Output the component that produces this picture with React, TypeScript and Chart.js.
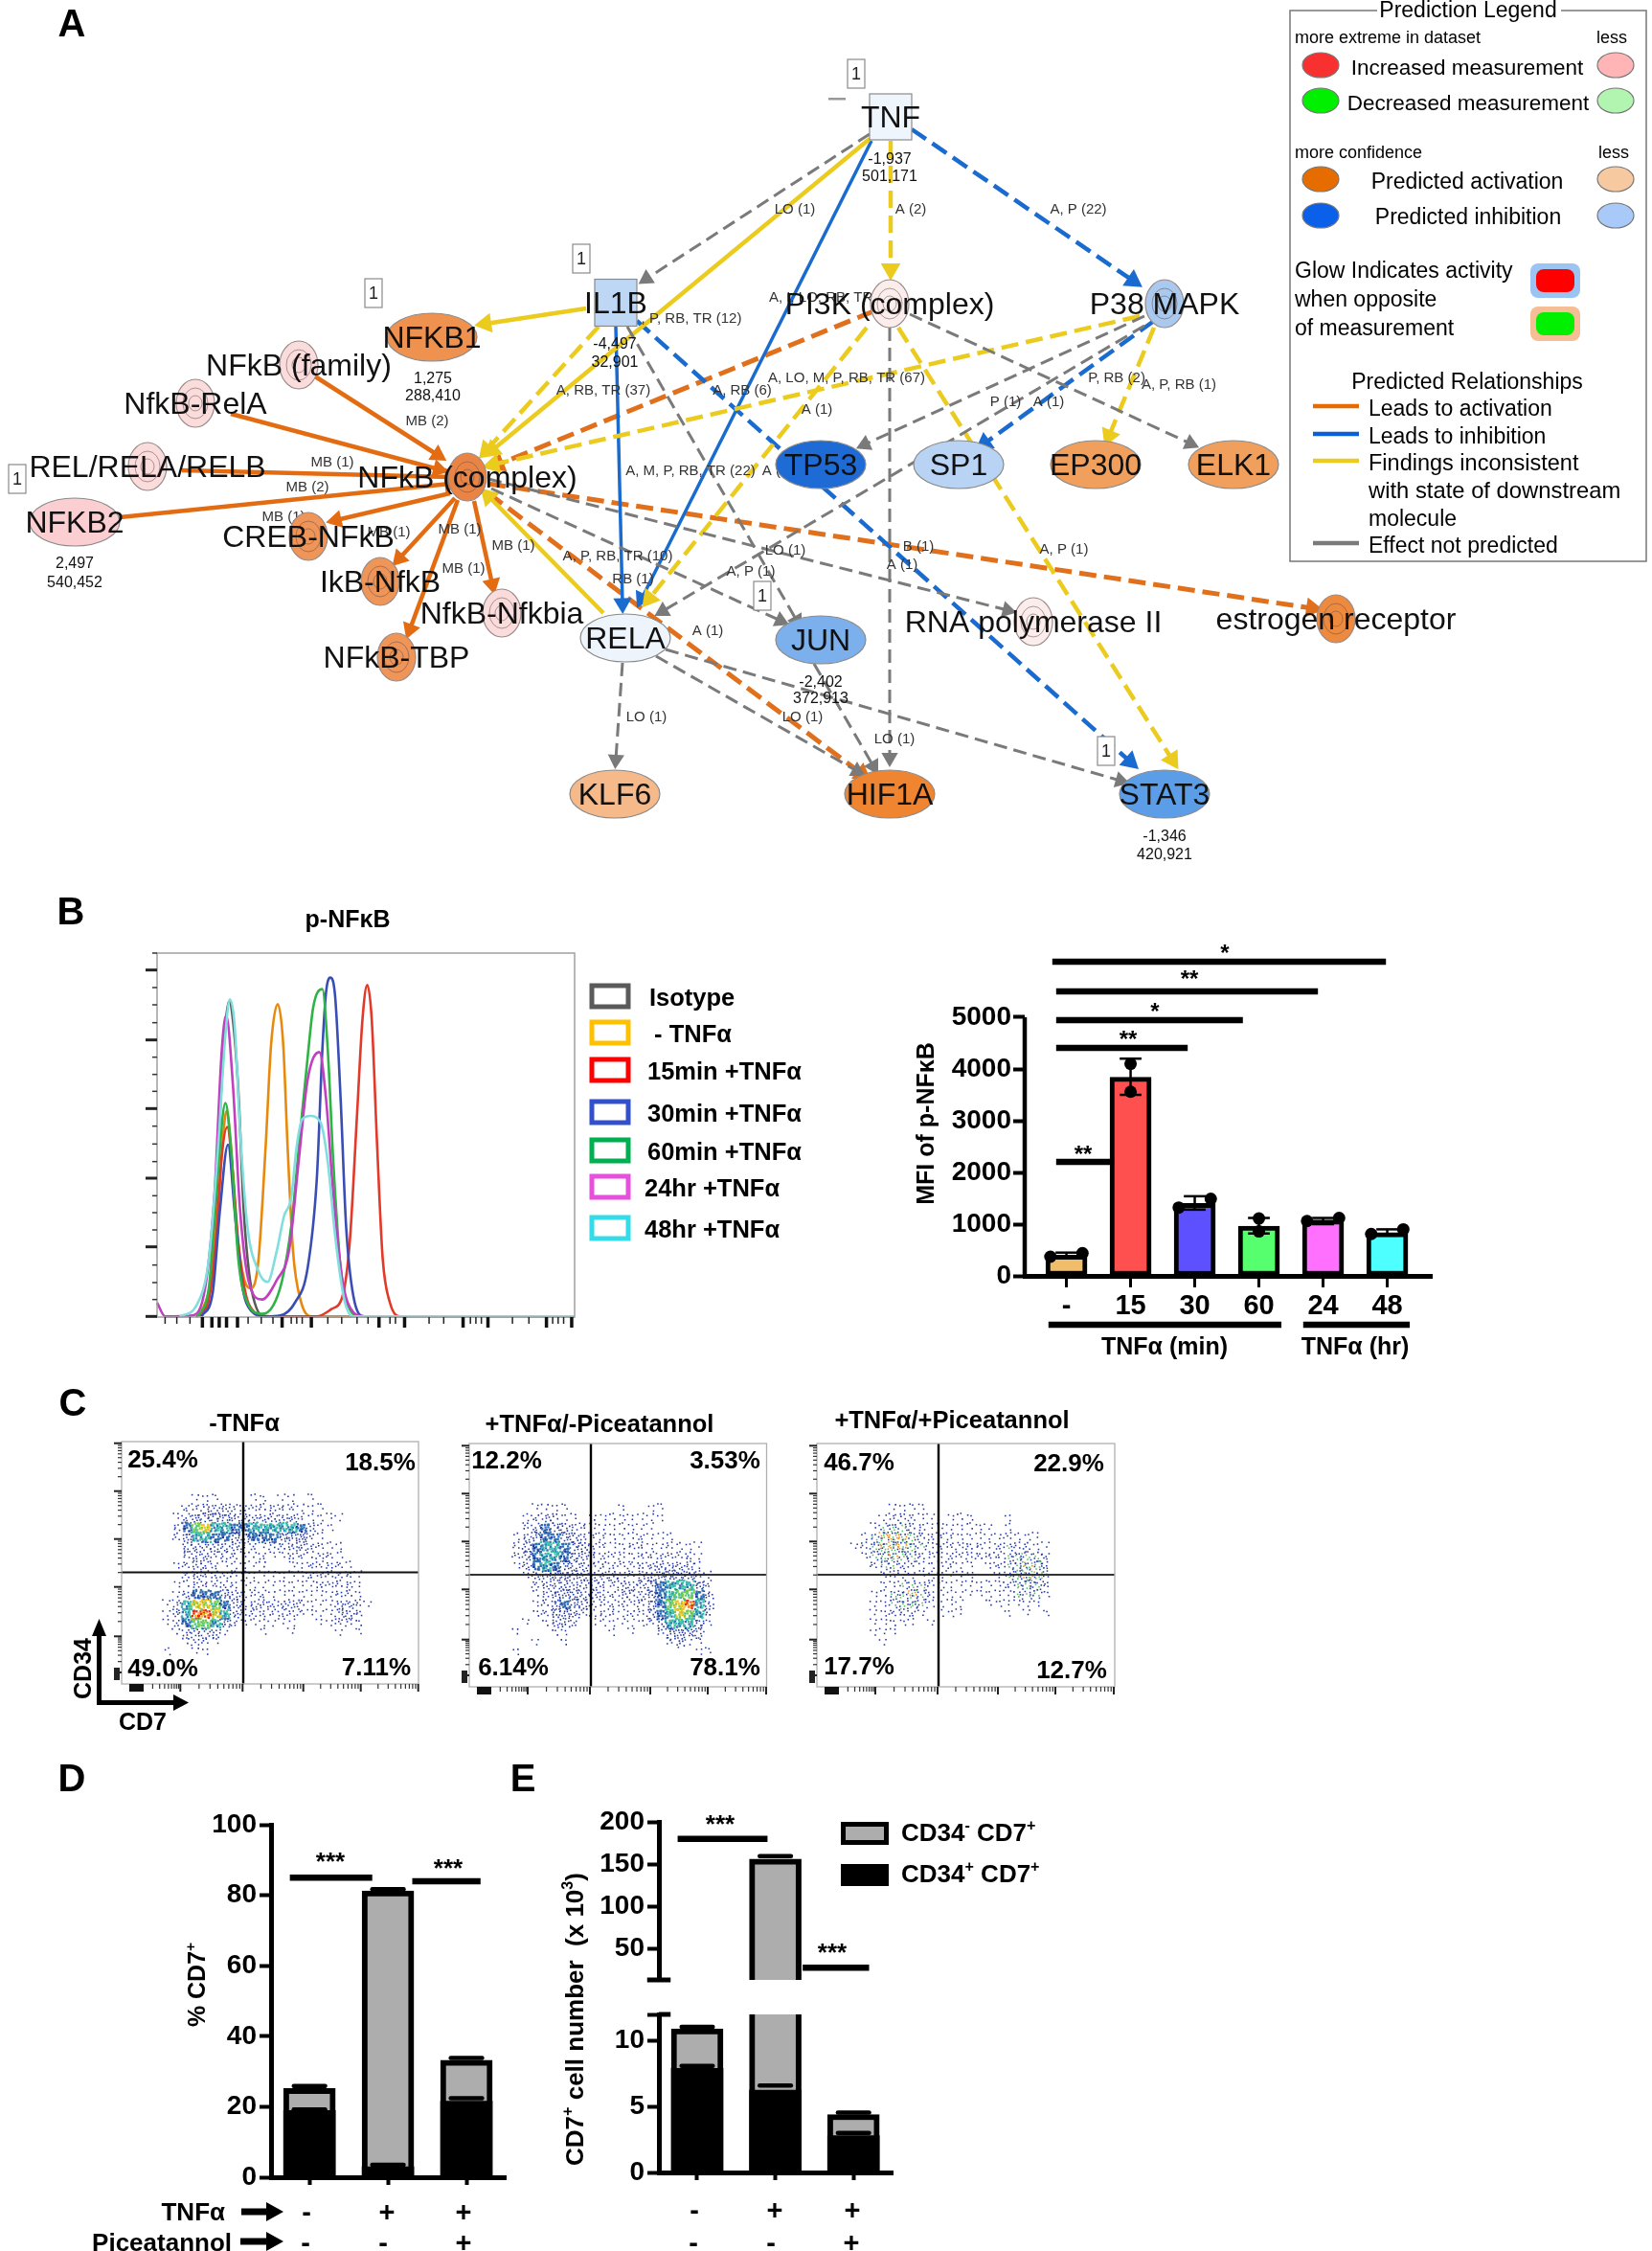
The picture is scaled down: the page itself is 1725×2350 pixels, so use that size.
import React, { useEffect, useRef } from "react";
import { Chart, registerables } from "chart.js";
Chart.register(...registerables);

const F = '"Liberation Sans", Arial, sans-serif';
Chart.defaults.font.family = F;

/* ---------- Panel A data ---------- */
const nodeNames = ["TNF","IL1B","NFKB1","NFkB (family)","NfkB-RelA","REL/RELA/RELB","NFKB2","NFkB (complex)","CREB-NFkB","IkB-NfkB","NfkB-Nfkbia","NFkB-TBP","RELA","KLF6","JUN","HIF1A","STAT3","RNA polymerase II","estrogen receptor","PI3K (complex)","P38 MAPK","TP53","SP1","EP300","ELK1"];
const nodeX = [930,643,451,312,204,154,78,488,322,397,524,414,653,642,857,929,1216,1079,1395,929,1216,857,1001,1144,1288];
const nodeY = [122,316,352,381,421,487,545,498,560,607,640,686,666,829,668,829,829,649,646,317,317,485,485,485,485];
const nodeKind = ["s","s","g","c","c","c","g","c","c","c","c","c","g","g","g","g","g","c","c","c","c","g","g","g","g"];
const nodeFill = ["#EFF5FC","#BDD7F5","#EF9250","#FADCDD","#FADCDD","#FADCDD","#FBCFD2","#EA8444","#EE9557","#EE9557","#FADCDD","#EE9557","#EEF4FB","#F5B98A","#7CB0EC","#EF8530","#5B9DE6","#FBEDEC","#EE8A3E","#FBEDEC","#A9C9EE","#1F6BD6","#B8D3F3","#F19F5C","#F19F5C"];
const noteText = ["-1,937","501,171","-4,497","32,901","1,275","288,410","2,497","540,452","-2,402","372,913","-1,346","420,921"];
const noteX = [929,929,642,642,452,452,78,78,857,857,1216,1216];
const noteY = [166,184,359,378,395,413,588,608,712,729,873,892];
const oneBoxX = [894,607,390,18,796,1155];
const oneBoxY = [77,270,306,500,622,784];
const edgeLabelText = ["LO (1)","A (2)","A, P (22)","A, I, LO, RB, TR (18)",", P, RB, TR (12)","A, RB, TR (37)","A, RB (6)","A, LO, M, P, RB, TR (67)","A (1)","MB (2)","MB (1)","MB (2)","MB (1)","MB (1)","MB (1)","MB (1)","MB (1)","A, M, P, RB, TR (22)","A (1)","A, P, RB, TR (10)","RB (1)","A (1)","LO (1)","A, P (1)","LO (1)","P, RB (2)","A, P, RB (1)","P (1)","A (1)","A, P (1)","B (1)","A (1)","LO (1)","LO (1)"];
const edgeLabelX = [830,951,1126,803,722,630,775,884,853,446,347,321,296,406,480,536,484,721,812,645,661,739,675,784,820,1166,1231,1050,1095,1111,959,942,838,934];
const edgeLabelY = [218,218,218,310,332,407,407,394,427,439,482,508,539,555,552,569,593,491,491,580,604,658,748,596,574,394,401,419,419,573,570,589,748,771];
type Seg = number[];
const grayDashed: Seg[] = [[908,140,675,291],[950,328,1243,463],[929,342,929,791],[1195,330,903,464],[1195,340,692,638],[655,341,832,648],[510,500,1052,637],[513,510,815,648],[650,692,643,793],[685,685,895,805],[695,678,1170,815],[850,693,912,800]];
const yellowDashed: Seg[] = [[930,147,930,281],[625,341,508,470],[905,342,678,625],[938,342,1224,793],[1190,330,515,485],[1205,342,1158,455]];
const yellowSolid: Seg[] = [[908,145,514,470],[612,322,507,338],[630,640,510,518]];
const blueSolid: Seg[] = [[910,147,670,625],[643,341,650,630]];
const blueDashed: Seg[] = [[952,135,1183,293],[665,335,1180,795],[1205,335,1028,463]];
const orangeSolid: Seg[] = [[329,393,457,475],[241,432,458,490],[190,491,470,498],[125,540,470,505],[470,515,351,543],[475,520,417,583],[478,522,428,657],[495,523,514,610]];
const orangeDashed: Seg[] = [[912,325,520,485],[510,505,1370,635],[510,515,900,808]];

/* ---------- Panel B data ---------- */
const histIsotypeX = [107,137,157,172,187,197,207,222,237,252,267,287,317,1142];
const histIsotypeY = [0,45,205,635,915,990,935,715,335,135,45,5,2,2];
const histCtrlX = [117,147,167,182,190,202,217,237,257,277,297,312,330,345,357,372,392,422,1142];
const histCtrlY = [5,115,355,585,645,535,285,125,90,175,535,855,980,855,535,205,55,2,2];
const hist15X = [117,142,162,177,192,207,222,242,267,297,437,477,507,527,547,562,575,587,602,617,637,667,1142];
const hist15Y = [2,55,255,505,595,455,235,75,15,2,2,25,65,235,635,935,1040,935,535,185,45,2,2];
const hist30X = [122,152,172,194,212,232,257,297,337,377,412,437,452,462,474,487,502,517,537,567,1142];
const hist30Y = [2,75,335,540,335,105,20,2,5,45,155,435,835,1015,1063,1005,685,285,65,2,2];
const hist60X = [112,142,165,187,202,222,247,287,317,342,367,392,412,427,452,467,482,502,527,557,1142];
const hist60Y = [2,95,435,670,535,185,45,10,35,115,285,585,815,970,1027,835,485,155,25,2,2];
const hist24X = [0,22,97,132,157,177,189,207,227,252,287,327,362,387,412,444,462,482,507,537,567,1142];
const hist24Y = [45,2,5,95,385,835,945,735,335,105,55,115,215,485,745,830,685,385,115,15,2,2];
const hist48X = [62,107,142,167,187,199,212,227,247,277,302,327,347,367,382,397,419,447,467,487,512,537,1142];
const hist48Y = [2,35,185,535,885,995,915,585,285,145,110,205,315,375,535,620,630,610,485,255,55,2,2];
const histColors = ["#5A5A5A","#E8890C","#E23A2A","#3A4DB5","#2FB344","#C040C0","#80DEDC"];
const histLegend = ["Isotype"," - TNFα","15min +TNFα","30min +TNFα","60min +TNFα","24hr +TNFα","48hr +TNFα"];
const histLegendColors = ["#5A5A5A","#FFC000","#FF0000","#3350CC","#00B050","#E650DC","#33DCE8"];
const histMajorY = [1087,868,653,435,220,2];
const histMinorY = [1140,1032,978,922,814,760,707,598,542,487,380,327,273,163,108,55];
const histMajorX = [124,150,170,190,220,342,422,607,677,837,905,1065,1134];
const histMinorX = [22,54,90,249,285,317,367,382,397,467,505,547,577,637,652,744,784,857,872,887,972,1017,1082,1097,1112];

const mfiLabels = ["-","15","30","60","24","48"];
const mfiValues = [400,3840,1400,960,1080,835];
const mfiColors = ["#F0BE6A","#FF5050","#5C50FF","#55FF6E","#FF70FF","#4DFFFF"];
const mfiErrLow = [360,3500,1280,820,1000,780];
const mfiErrHigh = [450,4200,1540,1120,1120,900];
const mfiDotX = [-0.25,0.25,1,1,1.75,2.25,3,3,3.75,4.25,4.75,5.25];
const mfiDotY = [370,440,4100,3560,1320,1490,1110,860,1060,1120,810,900];
const mfiSig = [[-0.22,4.98,6074],[-0.16,3.92,5500],[-0.16,2.75,4944],[-0.16,1.89,4407],[-0.16,0.74,2204]];
const mfiGroups = [[-0.28,3.35],[3.69,5.35]];

/* ---------- Panel C data: event density read per 10 px cell (0 empty – 9 hottest) ---------- */
const flowRows1 = [
"000000001110001101101",
"0000000223332222222111",
"000000134444333333321111",
"00000025786655666665311",
"0000002466554455544421",
"000000033333322122332211",
"000000023322211211221221",
"0000001232211111001122221",
"00000002322221111111222221",
"00000011222221111111122221",
"00000013555432221111111221",
"000001368875323323321113321",
"00000136998632222222111332",
"00000125776421111110011221",
"00000013333100010010000101",
"00000001221",
"0000010011"];
const flowRows2 = [
"000000011110000010011",
"000000123211011111111",
"00000023543221111111",
"0000013455432221112111",
"0000023566543221122112111",
"0000024566543222212222221",
"0000013565433222222333331",
"00000013444333332233444421",
"00000002333333223334566642",
"00000001244433223234567753",
"00000001245432222224578963",
"00000001244322221223568762",
"00000010133201111112366641",
"0000010001100001010024443",
"0000000100100000000002311",
"00000100000000000000000011"];
const flowRows3 = [
"000000001111",
"000000012221101110001",
"000000134422111111101",
"000001368742222111112111",
"0000125798431222221232211",
"0000013575322122222235432",
"0000002332211121101235752",
"0000000121111111100135762",
"0000000113332111111124542",
"0000001134632111111113331",
"000000113453111100111111",
"0000001122210111000010101",
"0000001111101",
"000000111",
"00000001"];
const flowTitles = ["-TNFα","+TNFα/-Piceatannol","+TNFα/+Piceatannol"];

/* ---------- Panels D, E data ---------- */
const cd7Pct = [25.2,81.2,33.2];
const cd34PosPct = [18.9,3.0,21.6];
const cd7PctCap = [25.9,81.7,33.8];
const cd34PosPctCap = [19.2,3.5,22.4];
const cd7Num = [10.9,156,4.4];
const cd34PosNum = [7.9,6.25,2.8];
const cd7NumCapLow = [11.05,0,4.55];
const cd34PosNumCap = [8.1,6.6,3.0];
const cd7NumCapHigh = 159.5;

/* ---------- helpers ---------- */
function T(ctx: any, s: string, x: number, y: number, size: number, o: any = {}) {
  ctx.save();
  ctx.translate(x, y);
  if (o.rot) ctx.rotate(o.rot);
  ctx.fillStyle = o.c || "#000";
  ctx.textBaseline = "middle";
  ctx.textAlign = "left";
  const w = o.b ? "bold " : "";
  const parts = s.split("^");
  const font = (i: number) => `${w}${i % 2 ? size * 0.62 : size}px ${F}`;
  let total = 0;
  parts.forEach((p, i) => { ctx.font = font(i); total += ctx.measureText(p).width; });
  let cx = o.a === "left" ? 0 : o.a === "right" ? -total : -total / 2;
  const dy = size * 0.06;
  parts.forEach((p, i) => {
    ctx.font = font(i);
    ctx.fillText(p, cx, dy + (i % 2 ? -size * 0.3 : 0));
    cx += ctx.measureText(p).width;
  });
  ctx.restore();
}
const ell = (ctx: any, x: number, y: number, rx: number, ry: number, fill: string | null, stroke: string | null, lw = 1.2) => {
  ctx.beginPath(); ctx.ellipse(x, y, rx, ry, 0, 0, Math.PI * 2);
  if (fill) { ctx.fillStyle = fill; ctx.fill(); }
  if (stroke) { ctx.strokeStyle = stroke; ctx.lineWidth = lw; ctx.stroke(); }
};
const rect = (ctx: any, x: number, y: number, w: number, h: number, fill: string | null, stroke: string | null, lw = 1) => {
  if (fill) { ctx.fillStyle = fill; ctx.fillRect(x, y, w, h); }
  if (stroke) { ctx.strokeStyle = stroke; ctx.lineWidth = lw; ctx.strokeRect(x, y, w, h); }
};
const line = (ctx: any, x1: number, y1: number, x2: number, y2: number, c: string, lw: number) => {
  ctx.strokeStyle = c; ctx.lineWidth = lw; ctx.beginPath(); ctx.moveTo(x1, y1); ctx.lineTo(x2, y2); ctx.stroke();
};
const seg = (x1: number, y1: number, x2: number, y2: number, lw: number, extra: any = {}) => ({
  type: "line", data: [{ x: x1, y: y1 }, { x: x2, y: y2 }], borderColor: "#000", borderWidth: lw,
  pointRadius: 0, clip: false, order: -1, ...extra,
});
const hidden = { display: false };
const base = (padding: any, scales: any) => ({
  responsive: false, animation: false, devicePixelRatio: 1, maintainAspectRatio: false,
  layout: { padding, autoPadding: false },
  plugins: { legend: hidden, tooltip: { enabled: false } },
  events: [], scales,
});
const fixTicks = (vals: number[]) => (s: any) => { s.ticks = vals.map((value) => ({ value })); };
const axisFont = (size: number) => ({ family: F, size, weight: "bold" as const });
const blockArrow = (ctx: any, x1: number, x2: number, y: number) => {
  rect(ctx, x1, y - 3.5, x2 - x1 - 16, 7, "#000", null);
  ctx.fillStyle = "#000"; ctx.beginPath();
  ctx.moveTo(x2 - 18, y - 10); ctx.lineTo(x2, y); ctx.lineTo(x2 - 18, y + 10); ctx.closePath(); ctx.fill();
};

/* ---------- Panel A ---------- */
function networkSpec() {
  const groups = [
    { e: grayDashed, c: "#7A7A7A", w: 3, d: [14, 7], a: 10 },
    { e: yellowSolid, c: "#EBCB1E", w: 4.5, d: [], a: 12 },
    { e: yellowDashed, c: "#EBCB1E", w: 4.5, d: [18, 8], a: 12 },
    { e: blueSolid, c: "#1A6BD0", w: 3.5, d: [], a: 11 },
    { e: blueDashed, c: "#1A6BD0", w: 4.5, d: [18, 8], a: 12 },
    { e: orangeDashed, c: "#E0701C", w: 5, d: [18, 8], a: 12 },
    { e: orangeSolid, c: "#E36C12", w: 4.5, d: [], a: 11 },
  ];
  const datasets = groups.flatMap((g) => g.e.map((s) => ({
    type: "line",
    data: [{ x: s[0], y: s[1] }, { x: s[2], y: s[3] }],
    borderColor: g.c, borderWidth: g.w, borderDash: g.d,
    pointStyle: "triangle", pointRadius: [0, g.a], pointBackgroundColor: g.c, pointBorderColor: g.c, pointBorderWidth: 0,
    pointRotation: [0, (Math.atan2(s[2] - s[0], -(s[3] - s[1])) * 180) / Math.PI],
  })));
  const extra = (c: any, ctx: any) => {
    const X = c.scales.x, Y = c.scales.y;
    const px = (v: number) => X.getPixelForValue(v), py = (v: number) => Y.getPixelForValue(v);
    edgeLabelText.forEach((t, i) => T(ctx, t, px(edgeLabelX[i]), py(edgeLabelY[i]), 15, { c: "#333", a: i === 3 ? "left" : "center" }));
    nodeNames.forEach((_, i) => {
      const x = px(nodeX[i]), y = py(nodeY[i]);
      if (nodeKind[i] === "s") {
        const isT = i === 0;
        rect(ctx, x - 22, y - (isT ? 24 : 24.5), 44, isT ? 48 : 49, nodeFill[i], "#8A8A8A", 1.2);
      } else if (nodeKind[i] === "g") {
        ell(ctx, x, y, 47, 25, nodeFill[i], "#8A8A8A");
      } else {
        ell(ctx, x, y, 20, 25, nodeFill[i], "#9A8A88");
        ell(ctx, x, y, 13, 16, null, "rgba(110,80,80,.55)", 1);
        ell(ctx, x, y, 7, 8, null, "rgba(110,80,80,.55)", 1);
      }
    });
    nodeNames.forEach((t, i) => T(ctx, t, px(nodeX[i]), py(nodeY[i]), 32, { c: "#111" }));
    noteText.forEach((t, i) => T(ctx, t, px(noteX[i]), py(noteY[i]), 16, { c: "#111" }));
    rect(ctx, 865, 102, 18, 2.5, "#999", null);
    oneBoxX.forEach((v, i) => {
      rect(ctx, px(v) - 9, py(oneBoxY[i]) - 15, 18, 30, "#fff", "#8A8A8A", 1.2);
      T(ctx, "1", px(v), py(oneBoxY[i]), 18, { c: "#222" });
    });
    // prediction legend
    ctx.strokeStyle = "#777"; ctx.lineWidth = 1.5; ctx.beginPath();
    ctx.moveTo(1438, 11); ctx.lineTo(1347, 11); ctx.lineTo(1347, 586); ctx.lineTo(1719, 586); ctx.lineTo(1719, 11); ctx.lineTo(1630, 11); ctx.stroke();
    T(ctx, "Prediction Legend", 1533, 10, 23);
    T(ctx, "more extreme in dataset", 1352, 39, 18, { a: "left" });
    T(ctx, "less", 1683, 39, 18);
    T(ctx, "more confidence", 1352, 159, 18, { a: "left" });
    T(ctx, "less", 1685, 159, 18);
    const legendRows = [[68, "#F83030", "#FFB5B5"], [105, "#00F000", "#B2F5B0"], [187, "#E66C00", "#F6C9A0"], [225, "#0A60E8", "#A9C9F8"]];
    legendRows.forEach((r: any) => {
      ell(ctx, 1379, r[0], 19, 13, r[1], "#777");
      ell(ctx, 1687, r[0], 19, 13, r[2], "#777");
    });
    T(ctx, "Increased measurement", 1532, 70, 22.5);
    T(ctx, "Decreased measurement", 1533, 107, 22.5);
    T(ctx, "Predicted activation", 1532, 189, 23);
    T(ctx, "Predicted inhibition", 1533, 226, 23);
    T(ctx, "Glow Indicates activity", 1352, 282, 23, { a: "left" });
    T(ctx, "when opposite", 1352, 312, 23, { a: "left" });
    T(ctx, "of measurement", 1352, 342, 23, { a: "left" });
    [[293, "#9CC4F2", "#FF0000"], [338, "#F5BE94", "#00F000"]].forEach((g: any) => {
      ctx.fillStyle = g[1]; ctx.beginPath(); ctx.roundRect(1598, g[0] - 18, 52, 36, 8); ctx.fill();
      ctx.fillStyle = g[2]; ctx.beginPath(); ctx.roundRect(1604, g[0] - 12, 40, 24, 8); ctx.fill();
    });
    T(ctx, "Predicted Relationships", 1532, 398, 23);
    [[424, "#E66C00"], [453, "#0A60D8"], [481, "#EBCB1E"], [567, "#7A7A7A"]].forEach((l: any) => line(ctx, 1371, l[0], 1419, l[0], l[1], 4.5));
    T(ctx, "Leads to activation", 1429, 426, 23, { a: "left" });
    T(ctx, "Leads to inhibition", 1429, 455, 23, { a: "left" });
    T(ctx, "Findings inconsistent", 1429, 483, 23.5, { a: "left" });
    T(ctx, "with state of downstream", 1429, 512, 23.8, { a: "left" });
    T(ctx, "molecule", 1429, 541, 23, { a: "left" });
    T(ctx, "Effect not predicted", 1429, 569, 23, { a: "left" });
    T(ctx, "A", 75, 25, 40, { b: true });
  };
  return {
    box: [0, 0, 1725, 940], extra, config: {
      type: "scatter", data: { datasets },
      options: base(0, {
        x: { type: "linear", display: false, min: 0, max: 1725 },
        y: { type: "linear", display: false, min: 0, max: 940, reverse: true },
      }),
    },
  };
}

/* ---------- Panel B ---------- */
function histSpec() {
  const xs = [histIsotypeX, histCtrlX, hist15X, hist30X, hist60X, hist24X, hist48X];
  const ys = [histIsotypeY, histCtrlY, hist15Y, hist30Y, hist60Y, hist24Y, hist48Y];
  const datasets = xs.map((xa, i) => ({
    type: "line", data: xa.map((x, j) => ({ x, y: ys[i][j] })),
    borderColor: histColors[i], borderWidth: 2.6, pointRadius: 0, cubicInterpolationMode: "monotone", order: -i,
    clip: 3,
  }));
  const extra = (c: any, ctx: any) => {
    const X = c.scales.x, Y = c.scales.y, a = c.chartArea;
    ctx.strokeStyle = "#A0A0A0"; ctx.lineWidth = 1.5; ctx.strokeRect(a.left, a.top, a.width, a.height);
    histMajorY.forEach((v) => line(ctx, a.left - 12, Y.getPixelForValue(v), a.left, Y.getPixelForValue(v), "#222", 3));
    histMinorY.forEach((v) => line(ctx, a.left - 5, Y.getPixelForValue(v), a.left, Y.getPixelForValue(v), "#333", 1.5));
    histMajorX.forEach((v) => line(ctx, X.getPixelForValue(v), a.bottom, X.getPixelForValue(v), a.bottom + 11, "#111", 3.5));
    histMinorX.forEach((v) => line(ctx, X.getPixelForValue(v), a.bottom, X.getPixelForValue(v), a.bottom + 7, "#222", 1.5));
    T(ctx, "p-NFκB", 363, 960, 25, { b: true });
    T(ctx, "B", 74, 952, 40, { b: true });
    const rowY = [1040, 1078, 1117, 1161, 1201, 1239, 1282];
    const textX = [678, 676, 676, 676, 676, 673, 673];
    histLegend.forEach((t, i) => {
      rect(ctx, 618, rowY[i] - 11, 38, 22, null, histLegendColors[i], 5);
      T(ctx, t, textX[i], rowY[i] + 1, 25.5, { b: true, a: "left" });
    });
  };
  return {
    box: [40, 930, 900, 470], extra, config: {
      type: "scatter", data: { datasets },
      options: base({ left: 124, right: 340, top: 65, bottom: 25 }, {
        x: { type: "linear", display: false, min: 0, max: 1142 },
        y: { type: "linear", display: false, min: 0, max: 1140 },
      }),
    },
  };
}

function mfiSpec() {
  const bars = {
    type: "bar", data: mfiValues.map((y, x) => ({ x, y })),
    backgroundColor: mfiColors, borderColor: "#000", borderWidth: 5, borderSkipped: false, barThickness: 43, order: 2,
  };
  const dots = {
    type: "scatter", data: mfiDotX.map((x, i) => ({ x, y: mfiDotY[i] })),
    pointRadius: 6.5, pointBackgroundColor: "#000", pointBorderWidth: 0, order: -2,
  };
  const errs = mfiValues.flatMap((_, i) => [
    seg(i, mfiErrLow[i], i, mfiErrHigh[i], 2.5),
    seg(i - 0.17, mfiErrHigh[i], i + 0.17, mfiErrHigh[i], 2.5),
    seg(i - 0.17, mfiErrLow[i], i + 0.17, mfiErrLow[i], 2.5),
  ]);
  const sig = mfiSig.map((s) => seg(s[0], s[2], s[1], s[2], 6.5, { borderCapStyle: "butt" }));
  const groups = mfiGroups.map((g) => seg(g[0], -944, g[1], -944, 6.5));
  const axis = seg(-0.65, 0, -0.65, 5000, 4.5);
  const extra = (c: any, ctx: any) => {
    [["*", 1279, 992], ["**", 1242, 1019], ["*", 1206, 1053], ["**", 1178, 1082], ["**", 1131, 1202]].forEach((s: any) =>
      T(ctx, s[0], s[1], s[2] + 3, 24, { b: true }));
    T(ctx, "TNFα (min)", 1216, 1406, 25, { b: true });
    T(ctx, "TNFα (hr)", 1415, 1406, 25, { b: true });
    T(ctx, "MFI of p-NFκB", 967, 1173, 25, { b: true, rot: -Math.PI / 2 });
  };
  return {
    box: [950, 945, 560, 490], extra, config: {
      type: "bar", data: { datasets: [dots, ...errs, ...sig, ...groups, axis, bars] },
      options: base({ left: 20, right: 14.55, top: 36, bottom: 53 }, {
        x: {
          type: "linear", offset: false, min: -0.65, max: 5.7, afterBuildTicks: fixTicks([0, 1, 2, 3, 4, 5]),
          afterFit: (s: any) => { s.height = 50; },
          ticks: { callback: (v: number) => mfiLabels[v], font: axisFont(29), color: "#000", padding: 3, maxRotation: 0, autoSkip: false },
          grid: { offset: false, drawOnChartArea: false, tickLength: 12, tickWidth: 3, tickColor: "#000" },
          border: { display: true, color: "#000", width: 5 },
        },
        y: {
          type: "linear", min: 0, max: 6500, afterBuildTicks: fixTicks([0, 1000, 2000, 3000, 4000, 5000]),
          afterFit: (s: any) => { s.width = 100; },
          ticks: { font: axisFont(28), color: "#000", padding: 2, callback: (v: number) => String(v) },
          grid: { drawOnChartArea: false, tickLength: 12, tickWidth: 4, tickColor: "#000" },
          border: { display: false },
        },
      }),
    },
  };
}

/* ---------- Panel C ---------- */
const bayer = [[0, 8, 2, 10], [12, 4, 14, 6], [3, 11, 1, 9], [15, 7, 13, 5]];
const stippleCount = [0, 3, 5, 8, 11, 14, 16, 16, 16, 16];
const stippleCountMix = [0, 3, 5, 7, 9, 11, 13, 13, 14, 15];
const stippleShift = [0, 0.09, -0.07, 0.04, -0.1, 0.06, -0.03, 0.1, -0.05, 0.02, 0.08, -0.09, 0.05, -0.02, 0.07, -0.06];
const ramp = ["", "#23359E", "#23359E", "#23359E", "#23359E", "#2F6FB5", "#3ABFA8", "#74CC48", "#F5C01A", "#E92E15"];
function flowPoints(rows: string[], mix: boolean) {
  const pts: any[] = [], col: string[] = [], rad: number[] = [];
  rows.forEach((row, r) => {
    row.split("").forEach((ch, c0) => {
      const d = +ch;
      if (!d) return;
      bayer.forEach((bRow, i) => bRow.forEach((b, j) => {
        if (b >= (mix ? stippleCountMix[d] : stippleCount[d])) return;
        const sx = stippleShift[(r * 7 + c0 * 11 + i * 5 + j * 3) % 16] * 1.3;
        const sy = stippleShift[(r * 3 + c0 * 13 + i * 9 + j * 7) % 16] * 1.3;
        pts.push({ x: c0 + (j + 0.5) / 4 + sx, y: r + (i + 0.5) / 4 + sy });
        let color = b >= 11 ? ramp[Math.max(d - 1, 1)] : ramp[d];
        if (mix) {
          color = "#23359E";
          if (d >= 6 && b % 3 === 0) color = "#F08A20";
          else if (d >= 3 && b % 3 === 1) color = "#55C060";
        }
        col.push(color);
        rad.push(!mix && d >= 5 ? 1.65 : 1.1);
      }));
    });
  });
  return { pts, col, rad };
}
function flowSpec(rows: string[], mix: boolean, title: string, box: number[], plot: number[], origin: number[], cross: number[], titleX: number, titleY: number, labels: any[], decadeX: number[], decadeY: number[], first: boolean) {
  const { pts, col, rad } = flowPoints(rows, mix);
  const L = plot[0], R = plot[1], TT = plot[2], B = plot[3];
  const xr = [(L - origin[0]) / 10, (R - origin[0]) / 10], yr = [(TT - origin[1]) / 10, (B - origin[1]) / 10];
  const scatter = { type: "scatter", data: pts, pointStyle: "rect", pointRadius: rad, pointBackgroundColor: col, pointBorderWidth: 0 };
  const lines = [
    seg(cross[0], yr[0], cross[0], yr[1], 2.4, { clip: true }),
    seg(xr[0], cross[1], xr[1], cross[1], 2.2, { clip: true, borderColor: first ? "#111" : "#333" }),
  ];
  const extra = (c: any, ctx: any) => {
    const a = c.chartArea, X = c.scales.x, Y = c.scales.y;
    ctx.strokeStyle = "#B0B0B0"; ctx.lineWidth = 1.3; ctx.strokeRect(a.left, a.top, a.width, a.height);
    const draw = (list: number[], vert: boolean) => {
      for (let i = 0; i < list.length; i++) {
        const p = vert ? Y.getPixelForValue(list[i]) : X.getPixelForValue(list[i]);
        if (vert) { if (p >= a.top && p <= a.bottom) line(ctx, a.left - 8, p, a.left, p, "#222", 2); }
        else line(ctx, p, a.bottom, p, a.bottom + 8, "#222", 2);
        if (i < list.length - 1) {
          const q = vert ? Y.getPixelForValue(list[i + 1]) : X.getPixelForValue(list[i + 1]);
          for (let k = 2; k <= 9; k++) {
            const f = 1 - Math.log10(k);
            const m = vert ? p + (q - p) * f : q - (q - p) * f;
            if (vert) { if (m >= a.top) line(ctx, a.left - 4, m, a.left, m, "#333", 1.2); }
            else line(ctx, m, a.bottom, m, a.bottom + 5, "#333", 1.2);
          }
        }
      }
    };
    draw(decadeX, false); draw(decadeY, true);
    rect(ctx, a.left + 8, a.bottom, 15, 8, "#111", null);
    rect(ctx, a.left - 8, a.bottom - 17, 6, 13, "#222", null);
    T(ctx, title, titleX, titleY, 25.5, { b: true });
    labels.forEach((l) => T(ctx, l[0], l[1], l[2], 26, { b: true }));
    if (first) {
      T(ctx, "C", 76, 1465, 40, { b: true });
      T(ctx, "CD34", 87, 1742, 25, { b: true, rot: -Math.PI / 2 });
      T(ctx, "CD7", 149, 1798, 25, { b: true });
      rect(ctx, 101, 1702, 5, 76, "#000", null);
      rect(ctx, 101, 1775, 84, 5, "#000", null);
      ctx.fillStyle = "#000"; ctx.beginPath(); ctx.moveTo(103.5, 1690); ctx.lineTo(96, 1708); ctx.lineTo(111, 1708); ctx.closePath(); ctx.fill();
      ctx.beginPath(); ctx.moveTo(197, 1777.5); ctx.lineTo(181, 1769); ctx.lineTo(181, 1786); ctx.closePath(); ctx.fill();
    }
  };
  return {
    box, extra, config: {
      type: "scatter", data: { datasets: [...lines, scatter] },
      options: base({ left: L - box[0], right: box[0] + box[2] - R, top: TT - box[1], bottom: box[1] + box[3] - B }, {
        x: { type: "linear", display: false, min: xr[0], max: xr[1] },
        y: { type: "linear", display: false, min: yr[0], max: yr[1], reverse: true },
      }),
    },
  };
}

/* ---------- Panels D, E ---------- */
const stackedBars = (tot: number[], low: number[]) => [
  { type: "bar", data: low.map((y, x) => ({ x, y })), backgroundColor: "#000", borderColor: "#000", borderWidth: 0, barThickness: 54, grouped: false, order: 1 },
  { type: "bar", data: tot.map((y, x) => ({ x, y })), backgroundColor: "#ADADAE", borderColor: "#000", borderWidth: 6, borderSkipped: false, barThickness: 54, grouped: false, order: 2 },
];
const cap = (x: number, y: number) => seg(x - 0.2, y, x + 0.2, y, 4.5, { borderCapStyle: "round" });
const xAxisDE = (afterFit: number) => ({
  type: "linear", offset: false, min: -0.49, max: 2.5, afterBuildTicks: fixTicks([0, 1, 2]),
  afterFit: (s: any) => { s.height = afterFit; },
  ticks: { callback: () => "", font: axisFont(8) },
  grid: { offset: false, drawOnChartArea: false, tickLength: 8, tickWidth: 4, tickColor: "#000" },
  border: { display: true, color: "#000", width: 5 },
});
const yAxisDE = (min: number, max: number, list: number[], hide: number[] = []) => ({
  type: "linear", min, max, afterBuildTicks: fixTicks(list),
  afterFit: (s: any) => { s.width = 100; },
  ticks: { font: axisFont(28), color: "#000", padding: 3, callback: (v: number) => (hide.includes(v) ? "" : String(v)) },
  grid: { drawOnChartArea: false, tickLength: 12, tickWidth: 4, tickColor: "#000" },
  border: { display: true, color: "#000", width: 5 },
});
const signRows = (ctx: any, xs: number[][], rows: number[]) => {
  xs.forEach((row, r) => row.forEach((x, i) => {
    const t = [["-", "+", "+"], ["-", "-", "+"]][r][i];
    T(ctx, t, x, rows[r], 29, { b: true });
  }));
};
function panelD() {
  const caps = [0, 1, 2].flatMap((i) => [cap(i, cd7PctCap[i]), cap(i, cd34PosPctCap[i])]);
  const sig = [seg(-0.25, 85, 0.8, 85, 6.5), seg(1.31, 84, 2.18, 84, 6.5)];
  const extra = (c: any, ctx: any) => {
    T(ctx, "D", 75, 1857, 40, { b: true });
    T(ctx, "***", 345, 1943, 26, { b: true });
    T(ctx, "***", 468, 1950, 26, { b: true });
    T(ctx, "% CD7^+", 206, 2072, 25, { b: true, rot: -Math.PI / 2 });
    T(ctx, "TNFα", 235, 2309, 26, { b: true, a: "right" });
    T(ctx, "Piceatannol", 242, 2341, 26, { b: true, a: "right" });
    blockArrow(ctx, 252, 296, 2309);
    blockArrow(ctx, 251, 296, 2340);
    signRows(ctx, [[320, 404, 484], [319, 400, 484]], [2309, 2341]);
  };
  return {
    box: [50, 1830, 490, 520], extra, config: {
      type: "bar", data: { datasets: [...caps, ...sig, ...stackedBars(cd7Pct, cd34PosPct)] },
      options: base({ left: 133, right: 12, top: 75, bottom: 57 }, {
        x: xAxisDE(20),
        y: yAxisDE(0, 100, [0, 20, 40, 60, 80, 100]),
      }),
    },
  };
}
function panelEUpper() {
  const sig = [seg(-0.25, 179.7, 0.9, 179.7, 6.5), seg(1.35, 27, 2.2, 27, 6.5)];
  const extra = (c: any, ctx: any) => {
    T(ctx, "E", 546, 1857, 40, { b: true });
    T(ctx, "***", 752, 1904, 26, { b: true });
    T(ctx, "***", 869, 2038, 26, { b: true });
    rect(ctx, 880.5, 1904.5, 45, 19, "#ADADAE", "#000", 5);
    rect(ctx, 878, 1946, 50, 23, "#000", null);
    T(ctx, "CD34^-^ CD7^+", 941, 1913, 26, { b: true, a: "left" });
    T(ctx, "CD34^+^ CD7^+", 941, 1956, 26, { b: true, a: "left" });
  };
  return {
    box: [520, 1830, 620, 275], extra, config: {
      type: "bar", data: { datasets: [cap(1, cd7NumCapHigh), ...sig, seg(-0.64, 12.5, -0.34, 12.5, 5), ...stackedBars(cd7Num, cd34PosNum)] },
      options: base({ left: 68, right: 208, top: 72, bottom: 38 }, {
        x: { type: "linear", offset: false, display: false, min: -0.49, max: 2.5 },
        y: { ...yAxisDE(12.5, 200, [50, 100, 150, 200]) },
      }),
    },
  };
}
function panelELower() {
  const caps = [0, 1, 2].flatMap((i) => [cap(i, cd34PosNumCap[i]), ...(cd7NumCapLow[i] ? [cap(i, cd7NumCapLow[i])] : [])]);
  const extra = (c: any, ctx: any) => {
    T(ctx, "CD7^+^ cell number  (x 10^3^)", 600, 2108, 26, { b: true, rot: -Math.PI / 2 });
    signRows(ctx, [[725, 809, 890], [724, 805, 889]], [2307, 2341]);
  };
  return {
    box: [520, 1940, 620, 410], extra, config: {
      type: "bar", data: { datasets: [...caps, seg(-0.49, 12, -0.34, 12, 5), ...stackedBars(cd7Num, cd34PosNum)] },
      options: base({ left: 68, right: 208, top: 163, bottom: 62 }, {
        x: xAxisDE(20),
        y: yAxisDE(0, 12, [0, 5, 10, 12], [12]),
      }),
    },
  };
}

function buildSpecs() {
  return [
    networkSpec(), histSpec(), mfiSpec(),
    flowSpec(flowRows1, false, flowTitles[0], [50, 1440, 395, 375], [127, 437, 1505, 1758], [120, 1560], [13.4, 8.15], 255, 1485,
      [["25.4%", 170, 1523], ["18.5%", 397, 1526], ["49.0%", 170, 1741], ["7.11%", 393, 1740]], [2.7, 6.83, 13.33, 19.67, 25.67, 31.67], [-5.33, -0.33, 4.67, 9.67, 14.83, 18.6], true),
    flowSpec(flowRows2, false, flowTitles[1], [465, 1440, 345, 345], [490, 800.5, 1507, 1761], [485, 1570], [13.2, 7.4], 626, 1486,
      [["12.2%", 529, 1524], ["3.53%", 757, 1524], ["6.14%", 536, 1740], ["78.1%", 757, 1740]], [2.5, 6.6, 13.1, 19.4, 25.4, 31.5], [-6.07, -1.07, 3.93, 8.93, 14.17, 17.9], false),
    flowSpec(flowRows3, true, flowTitles[2], [825, 1440, 345, 345], [853, 1164, 1507, 1761], [848, 1570], [13.2, 7.4], 994, 1482,
      [["46.7%", 897, 1526], ["22.9%", 1116, 1527], ["17.7%", 897, 1739], ["12.7%", 1119, 1743]], [2.5, 6.6, 13.1, 19.4, 25.4, 31.5], [-6.07, -1.07, 3.93, 8.93, 14.17, 17.9], false),
    panelD(), panelEUpper(), panelELower(),
  ];
}

/* scales and area shifted into page coordinates for the overlay text and tick marks */
function pageChart(c: any, left: number, top: number) {
  const a = c.chartArea;
  const wrap = (sc: any, off: number) => ({ getPixelForValue: (v: number) => sc.getPixelForValue(v) + off });
  return {
    chartArea: { left: a.left + left, right: a.right + left, top: a.top + top, bottom: a.bottom + top, width: a.right - a.left, height: a.bottom - a.top },
    scales: { x: wrap(c.scales.x, left), y: wrap(c.scales.y, top) },
  };
}

export default function App() {
  const specs = useRef<any[]>(buildSpecs());
  const canvases = useRef<(HTMLCanvasElement | null)[]>([]);
  useEffect(() => {
    const charts = specs.current.map((s, i) => {
      const [left, top] = s.box;
      const plugin = {
        id: "page" + i,
        afterDatasetsDraw(c: any) {
          const ctx = c.ctx;
          ctx.save();
          ctx.translate(-left, -top);
          s.extra(pageChart(c, left, top), ctx);
          ctx.restore();
        },
      };
      return new Chart(canvases.current[i] as HTMLCanvasElement, { ...s.config, plugins: [plugin] });
    });
    return () => charts.forEach((c) => c.destroy());
  }, []);
  return (
    <div style={{ position: "absolute", left: 0, top: 0, width: 1725, height: 2350, background: "#fff", overflow: "hidden" }}>
      {specs.current.map((s, i) => (
        <canvas
          key={i}
          ref={(el) => { canvases.current[i] = el; }}
          width={s.box[2]}
          height={s.box[3]}
          style={{ position: "absolute", left: s.box[0], top: s.box[1], width: s.box[2], height: s.box[3] }}
        />
      ))}
    </div>
  );
}
